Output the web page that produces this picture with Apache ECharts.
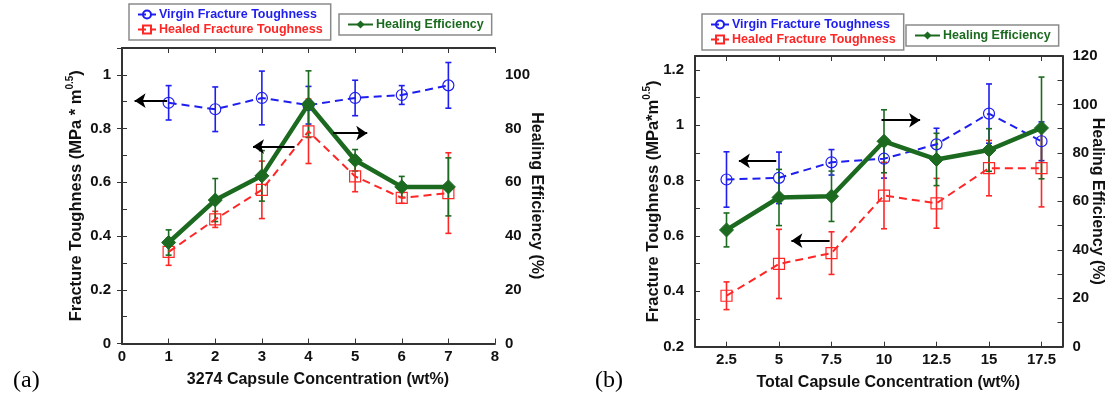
<!DOCTYPE html>
<html>
<head>
<meta charset="utf-8">
<script src="https://cdn.jsdelivr.net/npm/echarts@6/dist/echarts.min.js"></script>
<style>
html,body{margin:0;padding:0;background:#fff;}
#c{width:1112px;height:396px;}
</style>
</head>
<body>
<div id="c"></div>
<script>
// ---------- Data: panel (a) ----------
const concA = [1, 2, 3, 4, 5, 6, 7];
const virginA = [0.896, 0.872, 0.914, 0.887, 0.914, 0.925, 0.961];
const virginErrA = [0.064, 0.083, 0.10, 0.07, 0.066, 0.035, 0.085];
const healedA = [0.341, 0.462, 0.572, 0.790, 0.622, 0.542, 0.560];
const healedErrA = [0.05, 0.03, 0.107, 0.12, 0.057, 0.02, 0.15];
const effA = [37.6, 53.4, 62.4, 89.1, 68.2, 58.3, 58.3];
const effErrA = [4.7, 8, 9.4, 12.4, 4, 3.9, 10.8];
const ticksA = [0, 1, 2, 3, 4, 5, 6, 7, 8];
// arrows: [xStart, xEnd, y] (left-axis units)
const arrowsA = [[0.97, 0.27, 0.904], [3.70, 2.81, 0.733], [4.53, 5.26, 0.783]];

// ---------- Data: panel (b) ----------
const concB = [2.5, 5, 7.5, 10, 12.5, 15, 17.5];
const virginB = [0.804, 0.810, 0.866, 0.879, 0.931, 1.042, 0.942];
const virginErrB = [0.10, 0.093, 0.046, 0.07, 0.058, 0.107, 0.07];
const healedB = [0.384, 0.499, 0.538, 0.746, 0.718, 0.845, 0.845];
const healedErrB = [0.05, 0.125, 0.077, 0.12, 0.09, 0.10, 0.14];
const effB = [48.2, 61.6, 62.1, 84.8, 77.3, 81.2, 90.3];
const effErrB = [7, 11.6, 10.4, 13, 10.8, 8.8, 21];
const ticksB = [2.5, 5, 7.5, 10, 12.5, 15, 17.5];
const arrowsB = [[4.87, 3.09, 0.871], [9.88, 11.72, 1.018], [7.41, 5.59, 0.583]];

const NAMES = ['Virgin Fracture Toughness', 'Healed Fracture Toughness', 'Healing Efficiency'];
const BLUE = '#1e1ef0', RED = '#ff2626', GREEN = '#1c6a20', AX = '#333';
const FONT = 'Liberation Sans, Arial, sans-serif';

const chart = echarts.init(document.getElementById('c'), null, {renderer: 'canvas'});

function pairs(xs, ys) { return xs.map((x, i) => [x, ys[i]]); }
function errData(xs, ys, es) { return xs.map((x, i) => [x, ys[i], es[i]]); }

function errSeries(name, xs, ys, es, color, xi, yi) {
  return {
    type: 'custom', name: name, xAxisIndex: xi, yAxisIndex: yi, silent: true, z: 2,
    data: errData(xs, ys, es),
    encode: {x: 0, y: [1]},
    renderItem: function (params, api) {
      const x = api.value(0), y = api.value(1), e = api.value(2);
      const lo = api.coord([x, y - e]), hi = api.coord([x, y + e]);
      const w = 3;
      const st = {stroke: color, lineWidth: 1.6};
      return {type: 'group', children: [
        {type: 'line', shape: {x1: lo[0], y1: lo[1], x2: hi[0], y2: hi[1]}, style: st},
        {type: 'line', shape: {x1: lo[0] - w, y1: lo[1], x2: lo[0] + w, y2: lo[1]}, style: st},
        {type: 'line', shape: {x1: hi[0] - w, y1: hi[1], x2: hi[0] + w, y2: hi[1]}, style: st}
      ]};
    }
  };
}

function arrowSeries(arrows, xi, yi) {
  return {
    type: 'line', name: 'arrows', xAxisIndex: xi, yAxisIndex: yi, data: [], silent: true, z: 5,
    itemStyle: {color: '#000'}, lineStyle: {color: '#000'},
    markLine: {
      silent: true, symbol: ['none', 'arrow'], symbolSize: 11, precision: 4,
      itemStyle: {color: '#000'},
      lineStyle: {color: '#000', width: 2.2, type: 'solid'},
      label: {show: false},
      emphasis: {disabled: true},
      data: arrows.map(a => [{coord: [a[0], a[2]]}, {coord: [a[1], a[2]]}])
    }
  };
}

function lineSeries(kind, xs, ys, xi, yi) {
  const base = {type: 'line', xAxisIndex: xi, yAxisIndex: yi, data: pairs(xs, ys), z: 3, animation: false};
  if (kind === 0) {
    Object.assign(base, {name: NAMES[0], symbol: 'circle', symbolSize: 11,
      lineStyle: {color: BLUE, width: 2, type: [8, 5]},
      itemStyle: {color: 'rgba(255,255,255,0)', borderColor: BLUE, borderWidth: 1.2}});
  } else if (kind === 1) {
    Object.assign(base, {name: NAMES[1], symbol: 'rect', symbolSize: 11,
      lineStyle: {color: RED, width: 2, type: [8, 5]},
      itemStyle: {color: 'rgba(255,255,255,0)', borderColor: RED, borderWidth: 1.2}});
  } else {
    Object.assign(base, {name: NAMES[2], symbol: 'diamond', symbolSize: 14, z: 4,
      lineStyle: {color: GREEN, width: 4.5},
      itemStyle: {color: GREEN, borderColor: GREEN}});
  }
  return base;
}

const lblStyle = {color: '#111', fontFamily: FONT, fontWeight: 'bold', fontSize: 15};
const nameStyle = {color: '#111', fontFamily: FONT, fontWeight: 'bold', fontSize: 16};

function isMult(v, step) { return Math.abs(v / step - Math.round(v / step)) < 1e-6; }

function yLeft(grid, min, max, nameRich, gap) {
  return {
    type: 'value', gridIndex: grid, position: 'left', min: min, max: max, interval: 0.1,
    splitLine: {show: false},
    axisLine: {show: true, lineStyle: {color: AX, width: 2}},
    axisTick: {show: true, inside: true, length: 5, lineStyle: {color: AX, width: 1}},
    axisLabel: Object.assign({margin: 11, formatter: v => isMult(v, 0.2) ? String(+v.toFixed(1)) : ''}, lblStyle),
    name: nameRich, nameLocation: 'middle', nameRotate: 90, nameGap: gap, nameMoveOverlap: false,
    nameTextStyle: {rich: {
      a: {fontFamily: FONT, fontWeight: 'bold', fontSize: 16.5, color: '#111', lineHeight: 22, verticalAlign: 'middle'},
      s: {fontFamily: FONT, fontWeight: 'bold', fontSize: 10, color: '#111', lineHeight: 22, verticalAlign: 'top'}
    }}
  };
}

function yRight(grid, max, interval, labelStep, gap) {
  return {
    type: 'value', gridIndex: grid, position: 'right', min: 0, max: max, interval: interval,
    splitLine: {show: false},
    axisLine: {show: true, lineStyle: {color: AX, width: 2}},
    axisTick: {show: true, inside: true, length: 5, lineStyle: {color: AX, width: 1}},
    axisLabel: Object.assign({margin: 10, formatter: v => isMult(v, labelStep) && v <= max - (max % labelStep) ? String(Math.round(v)) : ''}, lblStyle),
    name: 'Healing Efficiency (%)', nameLocation: 'middle', nameRotate: -90, nameGap: gap, nameMoveOverlap: false,
    nameTextStyle: nameStyle
  };
}

function xBottom(grid, min, max, ticks, name, pad) {
  return {
    type: 'value', gridIndex: grid, position: 'bottom', min: min, max: max,
    splitLine: {show: false},
    axisLine: {show: true, onZero: false, lineStyle: {color: AX, width: 2}},
    axisTick: {show: true, inside: true, length: 5, customValues: ticks, lineStyle: {color: AX, width: 1}},
    axisLabel: Object.assign({margin: 6, customValues: ticks, formatter: v => String(v)}, lblStyle),
    name: name, nameLocation: 'middle', nameGap: 28, nameMoveOverlap: false,
    nameTextStyle: Object.assign({padding: [0, 0, 0, pad]}, nameStyle)
  };
}

function xTop(grid, min, max, ticks) {
  return {
    type: 'value', gridIndex: grid, position: 'top', min: min, max: max,
    splitLine: {show: false},
    axisLine: {show: true, onZero: false, lineStyle: {color: AX, width: 2}},
    axisTick: {show: true, inside: true, length: 5, customValues: ticks, lineStyle: {color: AX, width: 1}},
    axisLabel: {show: false}
  };
}

function legendBox(left, top, names, colors, iconW) {
  return {
    left: left, top: top, orient: 'vertical', itemGap: 2, itemWidth: iconW, itemHeight: 10,
    padding: [4, 8, 4, 8], borderColor: '#8a8a8a', borderWidth: 1.5, backgroundColor: '#fff',
    selectedMode: false,
    textStyle: {fontFamily: FONT, fontWeight: 'bold', fontSize: 12.5, padding: [0, 0, 0, -2]},
    data: names.map((n, i) => ({name: n, textStyle: {color: colors[i]}}))
  };
}

const option = {
  animation: false,
  backgroundColor: '#fff',
  grid: [
    {left: 122, top: 48, width: 373, height: 295.5},
    {left: 695, top: 56, width: 367.5, height: 290.7}
  ],
  title: [
    {text: '(a)', left: 8, top: 364, textStyle: {fontFamily: 'Liberation Serif, serif', fontWeight: 'normal', fontSize: 24, color: '#000'}},
    {text: '(b)', left: 590, top: 364, textStyle: {fontFamily: 'Liberation Serif, serif', fontWeight: 'normal', fontSize: 24, color: '#000'}}
  ],
  legend: [
    legendBox(129, 4, [NAMES[0], NAMES[1]], [BLUE, RED], 18),
    legendBox(339, 14, [NAMES[2]], [GREEN], 25),
    legendBox(702, 14, [NAMES[0], NAMES[1]], [BLUE, RED], 18),
    legendBox(906, 25, [NAMES[2]], [GREEN], 25)
  ],
  xAxis: [
    xBottom(0, 0, 8, ticksA, '3274 Capsule Concentration (wt%)', 19),
    xTop(0, 0, 8, ticksA),
    xBottom(1, 1, 18.5, ticksB, 'Total Capsule Concentration (wt%)', 19),
    xTop(1, 1, 18.5, ticksB)
  ],
  yAxis: [
    yLeft(0, 0, 1.1, '{a|Fracture Toughness (MPa * m}{s|0.5}{a|)}', 35),
    yRight(0, 110, 20, 20, 33),
    yLeft(1, 0.2, 1.25, '{a|Fracture Toughness (MPa*m}{s|0.5}{a|)}', 31),
    yRight(1, 120, 10, 20, 27)
  ],
  series: [
    errSeries('errVa', concA, virginA, virginErrA, BLUE, 0, 0),
    errSeries('errHa', concA, healedA, healedErrA, RED, 0, 0),
    errSeries('errEa', concA, effA, effErrA, GREEN, 0, 1),
    lineSeries(0, concA, virginA, 0, 0),
    lineSeries(1, concA, healedA, 0, 0),
    lineSeries(2, concA, effA, 0, 1),
    arrowSeries(arrowsA, 0, 0),
    errSeries('errVb', concB, virginB, virginErrB, BLUE, 2, 2),
    errSeries('errHb', concB, healedB, healedErrB, RED, 2, 2),
    errSeries('errEb', concB, effB, effErrB, GREEN, 2, 3),
    lineSeries(0, concB, virginB, 2, 2),
    lineSeries(1, concB, healedB, 2, 2),
    lineSeries(2, concB, effB, 2, 3),
    arrowSeries(arrowsB, 2, 2)
  ]
};
chart.setOption(option);
</script>
</body>
</html>
